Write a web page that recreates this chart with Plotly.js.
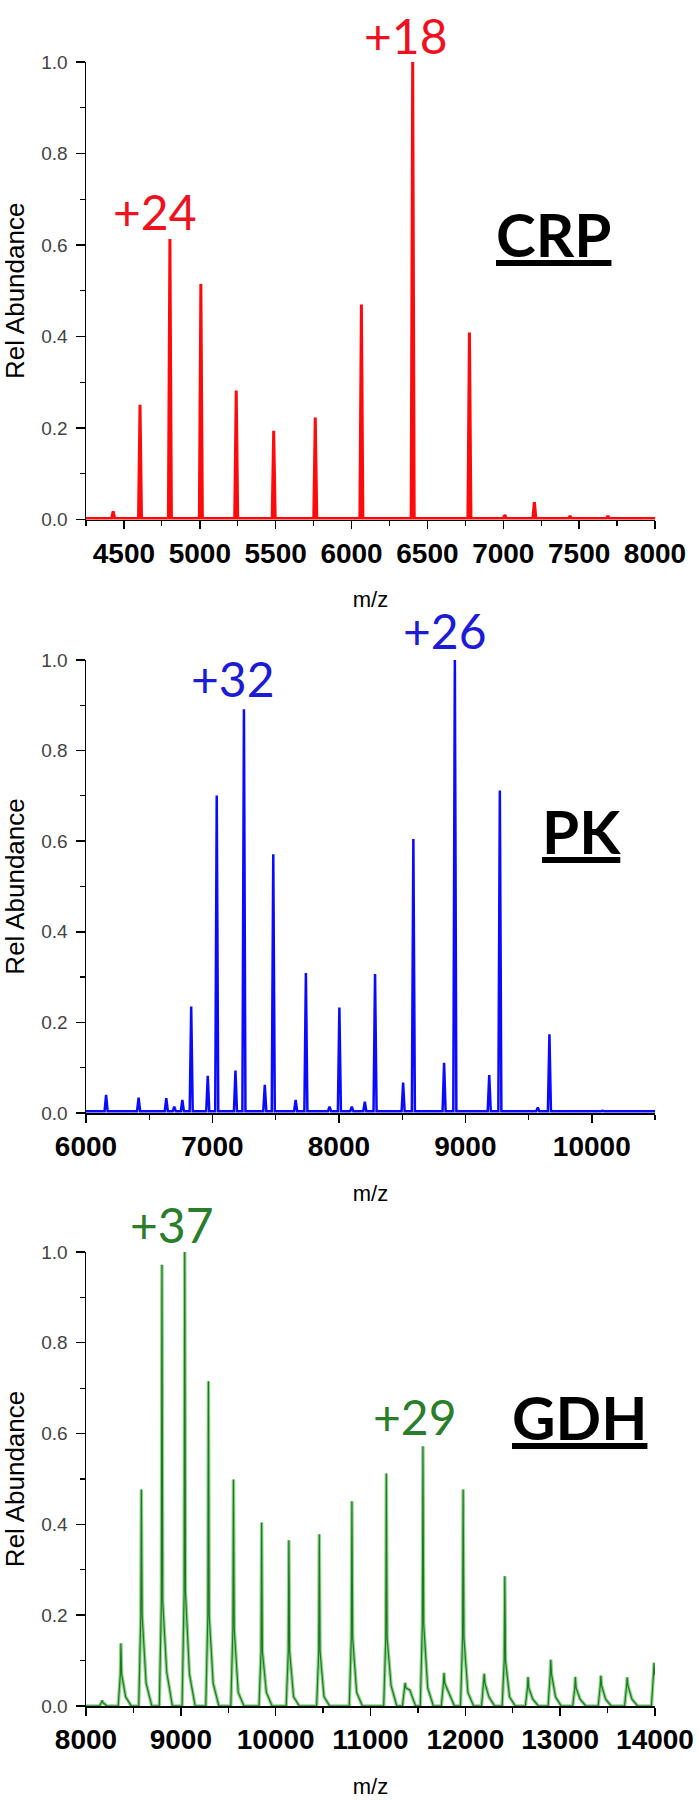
<!DOCTYPE html>
<html>
<head>
<meta charset="utf-8">
<script src="https://cdn.plot.ly/plotly-3.0.1.min.js"></script>
<style>body{margin:0;background:#fff}</style>
</head>
<body>
<div id="plotArea" style="width:699px;height:1800px;"></div>
<script>
// CRP spectrum: peak m/z and relative abundance
var crpMz = [4429, 4606, 4803, 5007, 5240, 5487, 5761, 6065, 6403, 6777, 7010, 7205, 7440, 7690];
var crpAbund = [0.018, 0.251, 0.613, 0.515, 0.282, 0.194, 0.223, 0.470, 1.0, 0.409, 0.010, 0.038, 0.008, 0.008];

// PK spectrum
var pkMz = [6159, 6416, 6635, 6698, 6762, 6832, 6963, 7034, 7182, 7249, 7414, 7481, 7658, 7739,
            7926, 8004, 8102, 8205, 8286, 8508, 8589, 8832, 8917, 9189, 9273, 9573, 9665, 10085];
var pkAbund = [0.040, 0.034, 0.033, 0.014, 0.029, 0.235, 0.082, 0.701, 0.094, 0.891, 0.062, 0.571, 0.029, 0.309,
               0.014, 0.233, 0.014, 0.025, 0.307, 0.067, 0.605, 0.111, 1.0, 0.084, 0.712, 0.012, 0.174, 0.005];

// GDH spectrum: peak top, shoulder and tail levels
var gdhMz = [8170, 8368, 8584, 8801, 9041, 9291, 9555, 9852, 10139, 10460, 10804, 11167, 11365,
             11553, 11775, 11977, 12199, 12416, 12661, 12901, 13160, 13429, 13707, 13990];
var gdhAbund = [0.012, 0.138, 0.477, 0.972, 1.0, 0.715, 0.499, 0.404, 0.365, 0.378, 0.451, 0.512, 0.051,
                0.572, 0.073, 0.477, 0.071, 0.286, 0.064, 0.102, 0.064, 0.067, 0.063, 0.095];
var gdhShoulder = [0.008, 0.07, 0.20, 0.23, 0.25, 0.20, 0.17, 0.12, 0.12, 0.12, 0.15, 0.15, 0.04,
                   0.18, 0.05, 0.15, 0.05, 0.10, 0.04, 0.07, 0.04, 0.045, 0.045, 0.07];
var gdhTail = [0.0, 0.02, 0.05, 0.075, 0.07, 0.05, 0.03, 0.03, 0.02, 0.02, 0.03, 0.045, 0.035,
               0.04, 0.03, 0.03, 0.02, 0.02, 0.015, 0.02, 0.015, 0.015, 0.015, 0.05];

var panelNames = ["CRP", "PK", "GDH"];
var chargeLabels = [["+24", "+18"], ["+32", "+26"], ["+37", "+29"]];

function sticks(mz, ab, lo, hi, w, base) {
    var x = [lo], y = [base];
    for (var i = 0; i < mz.length; i++) {
        x.push(mz[i] - w, mz[i], mz[i] + w);
        y.push(base, ab[i], base);
    }
    x.push(hi);
    y.push(base);
    return {x: x, y: y};
}

function envelopes(mz, ab, sh, tail, lo, hi) {
    var x = [lo], y = [0];
    for (var i = 0; i < mz.length; i++) {
        x.push(mz[i] - 28, mz[i] - 6, mz[i], mz[i] + 8, mz[i] + 50, mz[i] + 110);
        y.push(0, sh[i], ab[i], sh[i], tail[i], 0);
    }
    x.push(hi);
    y.push(0);
    return {x: x, y: y};
}

var crp = sticks(crpMz, crpAbund, 4250, 8000, 10, 0.002);
var pk = sticks(pkMz, pkAbund, 6000, 10500, 12, 0.004);
var gdh = envelopes(gdhMz, gdhAbund, gdhShoulder, gdhTail, 8000, 14000);

var data = [
    {x: crp.x, y: crp.y, type: 'scatter', mode: 'lines', xaxis: 'x', yaxis: 'y',
     line: {color: '#ff0a0a', width: 3}},
    {x: pk.x, y: pk.y, type: 'scatter', mode: 'lines', xaxis: 'x2', yaxis: 'y2',
     line: {color: '#0a0aff', width: 2.5}},
    {x: gdh.x, y: gdh.y, type: 'scatter', mode: 'lines', xaxis: 'x3', yaxis: 'y3',
     line: {color: '#8fd38f', width: 3.5}},
    {x: gdh.x, y: gdh.y, type: 'scatter', mode: 'lines', xaxis: 'x3', yaxis: 'y3',
     line: {color: '#1f7a1f', width: 1.2}}
];

function xAxis(anchor, lo, hi, dtick, minor) {
    return {
        anchor: anchor, domain: [0, 1], range: [lo, hi],
        tickmode: 'linear', tick0: lo + ((dtick - lo % dtick) % dtick), dtick: dtick,
        tickformat: 'd',
        showgrid: false, zeroline: false, showline: true, linecolor: '#000', linewidth: 1.5,
        ticks: 'outside', ticklen: 8, tickwidth: 1.5, tickcolor: '#000',
        minor: {dtick: minor, ticks: 'outside', ticklen: 5, tickwidth: 1.2, tickcolor: '#000', showgrid: false},
        tickfont: {family: 'Liberation Sans, Arial, sans-serif', size: 28, color: '#000', weight: 'bold'},
        title: {text: 'm/z', standoff: 24, font: {family: 'Liberation Sans, Arial, sans-serif', size: 22, color: '#000'}}
    };
}

function yAxis(anchor, domain) {
    return {
        anchor: anchor, domain: domain, range: [0, 1],
        tickmode: 'linear', tick0: 0, dtick: 0.2, tickformat: '.1f',
        showgrid: false, zeroline: false, showline: true, linecolor: '#000', linewidth: 1.5,
        ticks: 'outside', ticklen: 9, tickwidth: 1.5, tickcolor: '#000',
        minor: {dtick: 0.1, ticks: 'outside', ticklen: 5, tickwidth: 1.2, tickcolor: '#000', showgrid: false},
        ticklabelstandoff: 4,
        tickfont: {family: 'Liberation Sans, Arial, sans-serif', size: 19, color: '#444'},
        title: {text: 'Rel Abundance', standoff: 10, font: {family: 'Liberation Sans, Arial, sans-serif', size: 26, color: '#000'}}
    };
}

var chargeColors = ['#f01020', '#1c1cd8', '#2a7d2a'];
var chargePos = [
    [[4705, 0.674], [6359, 1.057]],
    [[7159, 0.960], [8841, 1.066]],
    [[8908, 1.060], [11465, 0.637]]
];
var namePos = [[7328, 0.624], [9921, 0.623], [13208, 0.637]];
var refs = [['x', 'y domain'], ['x2', 'y2 domain'], ['x3', 'y3 domain']];

var annotations = [];
for (var p = 0; p < 3; p++) {
    for (var k = 0; k < 2; k++) {
        annotations.push({
            x: chargePos[p][k][0], y: chargePos[p][k][1], xref: refs[p][0], yref: refs[p][1],
            text: chargeLabels[p][k], showarrow: false, xanchor: 'center', yanchor: 'middle',
            font: {family: 'Lato, Liberation Sans, sans-serif', size: 48, color: chargeColors[p]}
        });
    }
    annotations.push({
        x: namePos[p][0], y: namePos[p][1], xref: refs[p][0], yref: refs[p][1],
        text: panelNames[p], showarrow: false, xanchor: 'center', yanchor: 'middle',
        font: {family: 'Lato, Liberation Sans, sans-serif', size: 60, color: '#000', weight: 'bold', lineposition: 'under'}
    });
}

var layout = {
    width: 699, height: 1800,
    margin: {l: 86, r: 44, t: 62, b: 94},
    paper_bgcolor: '#fff', plot_bgcolor: '#fff',
    showlegend: false,
    xaxis: xAxis('y', 4250, 8000, 500, 250),
    yaxis: yAxis('x', [0.7217, 1]),
    xaxis2: xAxis('y2', 6000, 10500, 1000, 500),
    yaxis2: yAxis('x2', [0.3607, 0.6363]),
    xaxis3: xAxis('y3', 8000, 14000, 1000, 500),
    yaxis3: yAxis('x3', [0, 0.2762]),
    annotations: annotations
};

Plotly.newPlot('plotArea', data, layout, {staticPlot: true});
</script>
</body>
</html>
